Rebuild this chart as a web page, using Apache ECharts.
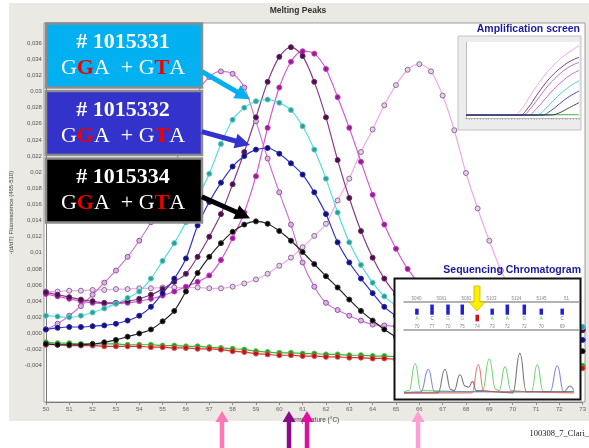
<!DOCTYPE html>
<html>
<head>
<meta charset="utf-8">
<script src="https://cdn.jsdelivr.net/npm/echarts@6/dist/echarts.min.js"></script>
<style>
  html, body { margin: 0; padding: 0; background: #fff; }
  #main { width: 589px; height: 448px; }
</style>
</head>
<body>
<div id="main"></div>
<script>
// temperatures (°C), one reading every half degree
var temps = [50, 50.5, 51, 51.5, 52, 52.5, 53, 53.5, 54, 54.5,
             55, 55.5, 56, 56.5, 57, 57.5, 58, 58.5, 59, 59.5,
             60, 60.5, 61, 61.5, 62, 62.5, 63, 63.5, 64, 64.5,
             65, 65.5, 66, 66.5, 67, 67.5, 68, 68.5, 69, 69.5,
             70, 70.5, 71, 71.5, 72, 72.5, 73];

// -(d/dT) fluorescence
var blackVals = [-0.0013, -0.0014, -0.0014, -0.0014, -0.0013, -0.0011, -0.0008, -0.0004, 0.0000, 0.0005,
                 0.0015, 0.0028, 0.0052, 0.0075, 0.0095, 0.0112, 0.0126, 0.0135, 0.0139, 0.0136,
                 0.0127, 0.0115, 0.0101, 0.0086, 0.0071, 0.0057, 0.0042, 0.0028, 0.0016, 0.0005,
                 -0.0004, -0.0008, -0.0011, -0.0013, -0.0014, -0.0015, -0.0016, -0.0017, -0.0018, -0.0018,
                 -0.0019, -0.0019, -0.002, -0.002, -0.0021, -0.0021, -0.0022];
var cyanVals = [0.0022, 0.0021, 0.002, 0.0022, 0.0026, 0.0031, 0.0037, 0.0044, 0.0052, 0.0068,
                0.009, 0.0112, 0.0138, 0.0168, 0.0198, 0.0235, 0.0265, 0.028, 0.0288, 0.029,
                0.0286, 0.0277, 0.0257, 0.0228, 0.0192, 0.015, 0.0113, 0.0085, 0.0063, 0.0046,
                0.0035, 0.0027, 0.0022, 0.0019, 0.0017, 0.0015, 0.0014, 0.0013, 0.0012, 0.0011,
                0.0011, 0.001, 0.001, 0.0009, 0.0009, 0.0008, 0.0008];
var blueVals = [0.0005, 0.0007, 0.0008, 0.0008, 0.0009, 0.001, 0.0012, 0.0016, 0.0022, 0.0033,
                0.005, 0.0068, 0.0093, 0.0134, 0.0163, 0.0187, 0.0207, 0.022, 0.0228, 0.023,
                0.0223, 0.0211, 0.0197, 0.0175, 0.0148, 0.0113, 0.0088, 0.0068, 0.005, 0.0033,
                0.0022, 0.0014, 0.0009, 0.0005, 0.0003, 0.0001, 0, -0.0001, -0.0002, -0.0003,
                -0.0004, -0.0004, -0.0005, -0.0005, -0.0006, -0.0007, -0.0008];
var plumVals = [0.0051, 0.0048, 0.0045, 0.0042, 0.004, 0.0038, 0.0038, 0.004, 0.0043, 0.0048,
                0.0055, 0.0064, 0.0074, 0.0095, 0.012, 0.0148, 0.0185, 0.0225, 0.0268, 0.0312,
                0.0343, 0.0355, 0.0344, 0.0312, 0.0268, 0.0215, 0.0168, 0.0127, 0.0094, 0.0068,
                0.0049, 0.0038, 0.003, 0.0024, 0.002, 0.0017, 0.0015, 0.0013, 0.0012, 0.0011,
                0.001, 0.0009, 0.0008, 0.0007, 0.0006, 0.0005, 0.0004];
var magentaVals = [0.0049, 0.0046, 0.0043, 0.004, 0.0038, 0.0037, 0.0037, 0.0038, 0.004, 0.0043,
                   0.0047, 0.0052, 0.0058, 0.0064, 0.0072, 0.0091, 0.0118, 0.015, 0.0195, 0.0255,
                   0.0305, 0.0337, 0.035, 0.0347, 0.0328, 0.0293, 0.0255, 0.0213, 0.0172, 0.0135,
                   0.0105, 0.008, 0.0062, 0.005, 0.0042, 0.0036, 0.0031, 0.0027, 0.0024, 0.0021,
                   0.0018, 0.0016, 0.0014, 0.0012, 0.001, 0.0009, 0.0008];
var violetVals = [0.0005, 0.0012, 0.0022, 0.0034, 0.0048, 0.0063, 0.0078, 0.0095, 0.0115, 0.0138,
                  0.0165, 0.0205, 0.0255, 0.0298, 0.0318, 0.0325, 0.0322, 0.0305, 0.0263, 0.0217,
                  0.0175, 0.0135, 0.0088, 0.0058, 0.0038, 0.0029, 0.0022, 0.0016, 0.0011, 0.001,
                  0.0009, 0.0009, 0.0008, 0.0008, 0.0008, 0.0007, 0.0007, 0.0007, 0.0007, 0.0006,
                  0.0006, 0.0006, 0.0006, 0.0006, 0.0006, 0.0006, 0.0006];
var lateVals = [0.0052, 0.0052, 0.0053, 0.0053, 0.0054, 0.0054, 0.0055, 0.0055, 0.0056, 0.0056,
                0.0057, 0.0057, 0.0057, 0.0057, 0.0056, 0.0056, 0.0058, 0.0062, 0.0067, 0.0074,
                0.0084, 0.0094, 0.0107, 0.0121, 0.0136, 0.0165, 0.0192, 0.0225, 0.0253, 0.0283,
                0.0308, 0.0327, 0.0334, 0.0325, 0.0295, 0.0252, 0.0199, 0.0155, 0.0115, 0.0078,
                0.005, 0.003, 0.0018, 0.0012, 0.0008, 0.0006, 0.0005];
var greenVals = [-0.0011, -0.0012, -0.0012, -0.0013, -0.0013, -0.0013, -0.0013, -0.0014, -0.0014, -0.0014,
                 -0.0015, -0.0015, -0.0016, -0.0016, -0.0017, -0.0018, -0.0019, -0.002, -0.0022, -0.0023,
                 -0.0024, -0.0024, -0.0025, -0.0025, -0.0026, -0.0026, -0.0027, -0.0027, -0.0028, -0.0028,
                 -0.0029, -0.0029, -0.003, -0.0031, -0.0031, -0.0032, -0.0033, -0.0034, -0.0035, -0.0035,
                 -0.0036, -0.0037, -0.0038, -0.0038, -0.0039, -0.004, -0.004];
var redVals = [-0.0014, -0.0014, -0.0015, -0.0015, -0.0015, -0.0016, -0.0016, -0.0016, -0.0016, -0.0017,
               -0.0017, -0.0018, -0.0018, -0.0019, -0.0019, -0.002, -0.0022, -0.0023, -0.0025, -0.0026,
               -0.0027, -0.0027, -0.0028, -0.0028, -0.0029, -0.0029, -0.003, -0.003, -0.0031, -0.0031,
               -0.0032, -0.0032, -0.0033, -0.0033, -0.0034, -0.0035, -0.0036, -0.0037, -0.0038, -0.0038,
               -0.0039, -0.004, -0.0041, -0.0041, -0.0042, -0.0042, -0.0043];

// y tick labels, bottom to top
var yTickLabels = ['-0,004', '-0,002', '0,000', '0,002', '0,004', '0,006', '0,008', '0,01', '0,012', '0,014',
                   '0,016', '0,018', '0,02', '0,022', '0,024', '0,026', '0,028', '0,03', '0,032', '0,034', '0,036'];

// sample boxes
var boxIds = ['# 1015331', '# 1015332', '# 1015334'];
var boxFills = ['#00b0f0', '#3333cc', '#000000'];

// amplification inset: [cycle, relative fluorescence]
var ampPink = [[0, 0], [17, 0], [20, 0.1], [23, 0.28], [26, 0.45], [29, 0.6], [32, 0.72], [35, 0.82], [38, 0.9], [40, 0.95]];
var ampPlum = [[0, 0], [19, 0], [22, 0.1], [25, 0.27], [28, 0.43], [31, 0.56], [34, 0.66], [37, 0.74], [40, 0.79]];
var ampViolet = [[0, 0], [20, 0], [23, 0.1], [26, 0.25], [29, 0.4], [32, 0.52], [35, 0.62], [38, 0.69], [40, 0.72]];
var ampMagenta = [[0, 0], [22, 0], [25, 0.09], [28, 0.22], [31, 0.35], [34, 0.46], [37, 0.55], [40, 0.61]];
var ampCyan = [[0, 0], [25, 0], [28, 0.08], [31, 0.2], [34, 0.31], [37, 0.4], [40, 0.47]];
var ampBlue = [[0, 0], [27, 0], [30, 0.06], [33, 0.15], [36, 0.24], [40, 0.33]];
var ampBlack = [[0, 0], [30, 0], [33, 0.03], [36, 0.09], [40, 0.17]];
var ampGreen = [[0, 0.005], [40, 0.005]];

// sequencing chromatogram inset
var scanLabels = ['5040', '5061', '5082', '5103', '5124', '5145', '51'];
var basePos = [7.6, 16.5, 25.9, 34.3, 43.1, 51.9, 60.8, 70.8, 80.8, 93.1];
var baseBars = [0.6, 1, 1, 1, -0.65, 0.6, 1, 1, 0.6, 0.6];
var baseLetters = ['A', 'C', 'G', 'G', '', 'A', 'A', 'G', 'A', 'C'];
var baseQuality = ['70', '77', '70', '75', '74', '73', '72', '72', '70', '69'];
var traceGreen = [[0, 1], [3, 2], [6.5, 26], [10, 2], [46, 1], [50.2, 30], [54, 3], [56, 2], [59.4, 23], [63, 2], [75, 1], [78.4, 25], [82, 1], [100, 1]];
var traceBlue = [[0, 0], [10, 1], [14.3, 21], [18, 1], [86, 1], [90.2, 24], [94, 1], [97.6, 6], [100, 2]];
var traceBlack = [[0, 0], [20, 0], [24.1, 21], [27.5, 3], [29.5, 2], [32.9, 16], [36, 6], [38, 5], [40.4, 10], [42.5, 2], [64, 0], [68.2, 35], [72, 1], [100, 1]];
var traceRed = [[0, 0], [40, 0], [43.7, 25], [47, 1], [100, 0]];

var letterColors = { A: '#33bb33', C: '#3333cc', G: '#777777', T: '#dd2222' };

function pairs(vals) {
  return temps.map(function (t, i) { return [t, vals[i]]; });
}

function meltSeries(vals, line, fill, stroke) {
  return {
    type: 'line', xAxisIndex: 0, yAxisIndex: 0, z: 3,
    data: pairs(vals), smooth: 0.3,
    symbol: 'circle', symbolSize: 5,
    lineStyle: { color: line, width: 1.2 },
    itemStyle: { color: fill, borderColor: stroke, borderWidth: 1 }
  };
}

function ampSeries(data, color) {
  return {
    type: 'line', xAxisIndex: 1, yAxisIndex: 1, z: 8,
    data: data, smooth: 0.4, showSymbol: false,
    lineStyle: { color: color, width: 0.9 }
  };
}

function traceSeries(data, color) {
  return {
    type: 'line', xAxisIndex: 4, yAxisIndex: 3, z: 8,
    data: data, smooth: 0.5, smoothMonotone: 'x', showSymbol: false,
    lineStyle: { color: color, width: 1.1, opacity: 0.8 }
  };
}

// arrow made of a thick line and a triangle head
function arrow(x1, y1, x2, y2, shaftW, headL, headW, color, z) {
  var dx = x2 - x1, dy = y2 - y1, len = Math.sqrt(dx * dx + dy * dy);
  var ux = dx / len, uy = dy / len, px = -uy, py = ux;
  var bx = x2 - ux * headL, by = y2 - uy * headL;
  return [
    { type: 'line', z: z, shape: { x1: x1, y1: y1, x2: bx + ux, y2: by + uy }, style: { stroke: color, lineWidth: shaftW } },
    { type: 'polygon', z: z, shape: { points: [[x2, y2], [bx + px * headW, by + py * headW], [bx - px * headW, by - py * headW]] }, style: { fill: color } }
  ];
}

var graphics = [
  { type: 'rect', z: 0, shape: { x: 9, y: 3, width: 580, height: 418 }, style: { fill: '#ebe9e4' } },
  { type: 'rect', z: 1, shape: { x: 44, y: 23, width: 541, height: 379 }, style: { fill: '#ffffff', stroke: '#9c9c9c', lineWidth: 1 } },
  { type: 'text', z: 1, x: 298, y: 11, style: { text: 'Melting Peaks', align: 'center', verticalAlign: 'middle', fill: '#333', font: 'bold 8.5px "Liberation Sans"' } },
  // amplification inset
  { type: 'rect', z: 6, shape: { x: 458, y: 36, width: 123, height: 94 }, style: { fill: '#ececec', stroke: '#c4c4c4', lineWidth: 1 } },
  { type: 'rect', z: 7, shape: { x: 466, y: 42, width: 113, height: 76 }, style: { fill: '#ffffff' } },
  { type: 'text', z: 9, x: 580, y: 29.5, style: { text: 'Amplification screen', align: 'right', verticalAlign: 'middle', fill: '#1a1aa0', font: 'bold 10.5px "Liberation Sans"' } },
  // chromatogram inset
  { type: 'rect', z: 6, shape: { x: 394.5, y: 278.5, width: 186, height: 121 }, style: { fill: '#ffffff', stroke: '#111111', lineWidth: 2 } },
  { type: 'text', z: 9, x: 581, y: 270, style: { text: 'Sequencing Chromatogram', align: 'right', verticalAlign: 'middle', fill: '#1a1aa0', font: 'bold 10.5px "Liberation Sans"' } },
  { type: 'polygon', z: 9, shape: { points: [[474, 286], [480, 286], [480, 302], [485, 302], [477, 311], [469, 302], [474, 302]] }, style: { fill: '#ffee00', stroke: '#c9b800', lineWidth: 0.8 } },
  { type: 'text', z: 10, x: 589, y: 434, style: { text: '100308_7_Clari_', align: 'right', verticalAlign: 'middle', fill: '#222', font: '8.5px "Liberation Serif"' } }
];

var boxTops = [23.5, 91, 158.5];
boxIds.forEach(function (id, i) {
  graphics.push({ type: 'rect', z: 10, shape: { x: 46, y: boxTops[i], width: 156, height: 64 }, style: { fill: boxFills[i], stroke: '#8c8c8c', lineWidth: 2.5 } });
  graphics.push({
    type: 'text', z: 11, x: 123, y: boxTops[i] + 32,
    style: {
      text: '{h|' + id + '}\n{n|G}{r|G}{n|A  + G}{r|T}{n|A}',
      align: 'center', verticalAlign: 'middle',
      rich: {
        h: { fill: '#fff', fontFamily: 'Liberation Serif', fontSize: 22, fontWeight: 'bold', lineHeight: 26 },
        n: { fill: '#fff', fontFamily: 'Liberation Serif', fontSize: 22, lineHeight: 26 },
        r: { fill: '#ee0000', fontFamily: 'Liberation Serif', fontSize: 22, fontWeight: 'bold', lineHeight: 26 }
      }
    }
  });
});

graphics = graphics
  .concat(arrow(202, 71.7, 250, 99.3, 5, 15, 7.5, '#00b0f0', 10))
  .concat(arrow(201.7, 131.7, 250, 145, 5, 15, 7.5, '#3333cc', 10))
  .concat(arrow(201.7, 196.7, 250, 218.3, 5, 15, 7.5, '#000000', 10))
  .concat(arrow(222, 448, 222, 411, 4.5, 11, 6.5, '#ff77b4', 10))
  .concat(arrow(289, 448, 289, 411, 4.5, 11, 6.5, '#8a0a8a', 10))
  .concat(arrow(307, 448, 307, 411, 4.5, 11, 6.5, '#e0109f', 10))
  .concat(arrow(418, 448, 418, 411, 4.5, 11, 6.5, '#ffa0d0', 10));

var chart = echarts.init(document.getElementById('main'));
var option = {
  animation: false,
  backgroundColor: '#ffffff',
  textStyle: { fontFamily: 'Liberation Sans' },
  grid: [
    { left: 44, top: 23, width: 541, height: 379 },
    { left: 466, top: 42, width: 113, height: 76 },
    { left: 404, top: 302, width: 175, height: 28 },
    { left: 404, top: 350, width: 175, height: 44 }
  ],
  xAxis: [
    {
      gridIndex: 0, type: 'value', min: 50, max: 73, interval: 1, z: 2,
      axisLine: { onZero: false, lineStyle: { color: '#777' } },
      axisTick: { length: 3, lineStyle: { color: '#888' } },
      axisLabel: { fontSize: 6, color: '#666', margin: 4 },
      splitLine: { show: false },
      name: 'Temperature (°C)', nameLocation: 'middle', nameGap: 14,
      nameTextStyle: { fontSize: 6.5, color: '#444' }
    },
    {
      gridIndex: 1, type: 'value', min: 0, max: 40, interval: 1, z: 8,
      axisLine: { onZero: false, lineStyle: { color: '#aaa', width: 0.8 } },
      axisTick: { length: 2, lineStyle: { color: '#aaa', width: 0.6 } },
      axisLabel: { show: false }, splitLine: { show: false }
    },
    {
      gridIndex: 2, type: 'value', min: 0, max: 103, z: 8,
      axisLine: { onZero: false, lineStyle: { color: '#999', width: 1.5 } },
      axisTick: { show: false }, axisLabel: { show: false }, splitLine: { show: false }
    },
    {
      gridIndex: 2, type: 'category', position: 'top', data: scanLabels, z: 8,
      axisLine: { onZero: false, lineStyle: { color: '#999', width: 1.5 } },
      axisTick: { length: 2, lineStyle: { color: '#999' } },
      axisLabel: { fontSize: 4.5, color: '#888', margin: 1 }
    },
    { gridIndex: 3, type: 'value', min: 0, max: 103, show: false }
  ],
  yAxis: [
    {
      gridIndex: 0, type: 'value', min: -0.0085, max: 0.0385, interval: 0.0005, z: 2,
      axisLine: { show: true, onZero: false, lineStyle: { color: '#777' } },
      axisTick: { show: false }, splitLine: { show: false },
      axisLabel: {
        fontSize: 6, color: '#555', margin: 4,
        formatter: function (v) {
          var m = Math.round(v * 10000);
          if (m % 20 !== 0 || m < -40 || m > 360) return '';
          return yTickLabels[(m + 40) / 20];
        }
      },
      name: '-(d/dT) Fluorescence (465-510)', nameLocation: 'middle', nameGap: 29,
      nameTextStyle: { fontSize: 6, color: '#444' }
    },
    {
      gridIndex: 1, type: 'value', min: -0.04, max: 1, z: 8,
      axisLine: { show: true, onZero: false, lineStyle: { color: '#aaa', width: 0.8 } },
      axisTick: { show: false }, axisLabel: { show: false }, splitLine: { show: false }
    },
    { gridIndex: 2, type: 'value', min: -1.5, max: 1.25, show: false },
    { gridIndex: 3, type: 'value', min: -1, max: 38, show: false }
  ],
  series: [
    meltSeries(greenVals, '#33bb33', '#1f9a1f', '#45c845'),
    meltSeries(redVals, '#dd3333', '#b01818', '#e05050'),
    meltSeries(lateVals, '#f0a8e8', '#e6d3ea', '#8d6a9a'),
    meltSeries(violetVals, '#c878d0', '#d9b3e0', '#9b4fa8'),
    meltSeries(magentaVals, '#d45ad4', '#9a1a9a', '#c040c0'),
    meltSeries(plumVals, '#8a3a8a', '#4a1048', '#6a2a6a'),
    meltSeries(cyanVals, '#55dede', '#2e9c98', '#5ccac6'),
    meltSeries(blueVals, '#3333cc', '#10107a', '#2a2aa8'),
    meltSeries(blackVals, '#222222', '#000000', '#333333'),

    ampSeries(ampGreen, '#30a030'),
    ampSeries(ampPink, '#e8a0e0'),
    ampSeries(ampPlum, '#6a2a6a'),
    ampSeries(ampViolet, '#b060c0'),
    ampSeries(ampMagenta, '#d050d0'),
    ampSeries(ampCyan, '#40c8c0'),
    ampSeries(ampBlue, '#3030b0'),
    ampSeries(ampBlack, '#303030'),

    {
      type: 'bar', xAxisIndex: 2, yAxisIndex: 2, z: 8, barWidth: 3.5,
      data: basePos.map(function (p, i) {
        return { value: [p, baseBars[i]], itemStyle: { color: baseBars[i] < 0 ? '#d01010' : '#2020d0' } };
      })
    },
    {
      type: 'scatter', xAxisIndex: 2, yAxisIndex: 2, z: 8, symbolSize: 1,
      itemStyle: { color: 'rgba(0,0,0,0)' },
      data: basePos.map(function (p, i) {
        return { value: [p, -0.35], label: { color: letterColors[baseLetters[i]] || '#777' } };
      }),
      label: { show: true, position: 'inside', fontSize: 4.5, formatter: function (p) { return baseLetters[p.dataIndex]; } }
    },
    {
      type: 'scatter', xAxisIndex: 2, yAxisIndex: 2, z: 8, symbolSize: 1,
      itemStyle: { color: 'rgba(0,0,0,0)' },
      data: basePos.map(function (p) { return [p, -1.18]; }),
      label: { show: true, position: 'inside', fontSize: 4.5, color: '#666', formatter: function (p) { return baseQuality[p.dataIndex]; } }
    },

    traceSeries(traceGreen, '#55cc55'),
    traceSeries(traceBlue, '#6666dd'),
    traceSeries(traceBlack, '#555555'),
    traceSeries(traceRed, '#e05a5a')
  ],
  graphic: { elements: graphics }
};
chart.setOption(option);
</script>
</body>
</html>
